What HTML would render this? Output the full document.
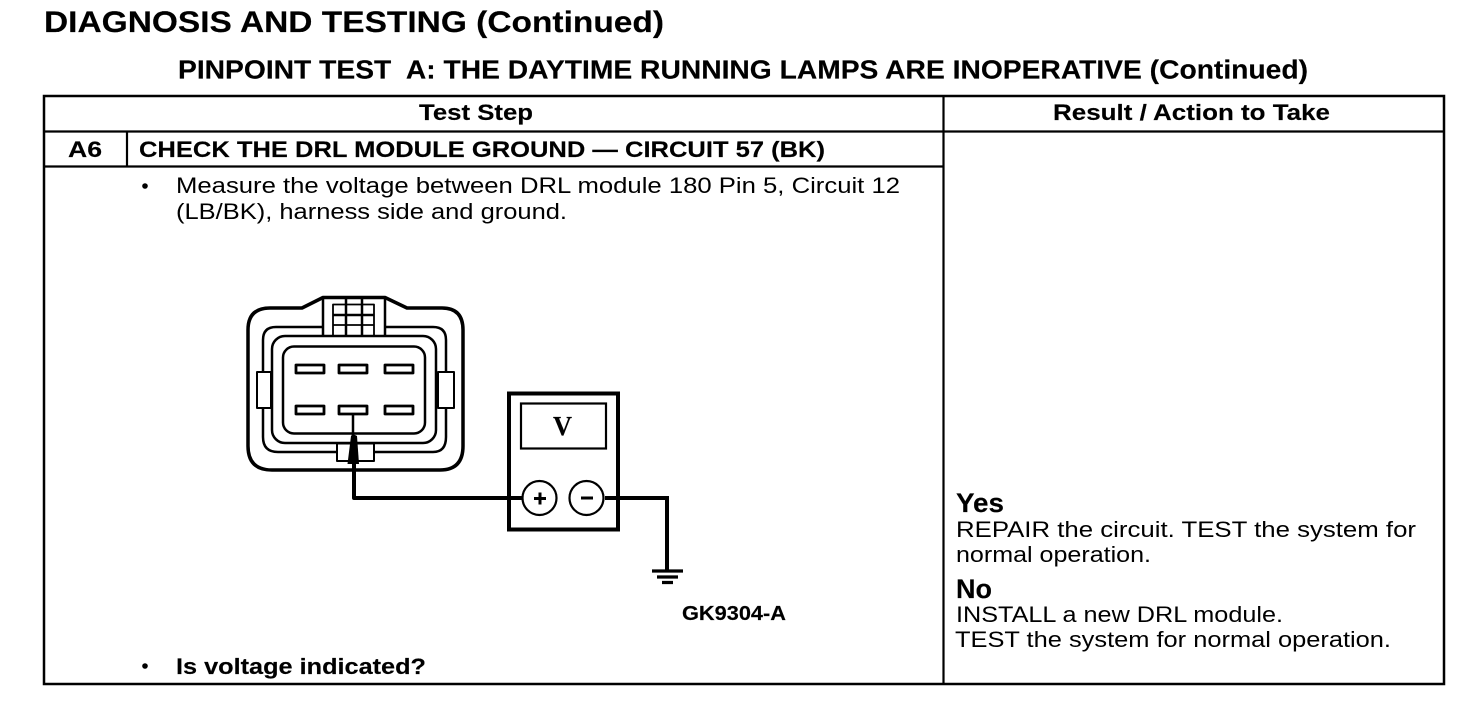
<!DOCTYPE html>
<html><head><meta charset="utf-8"><style>
html,body{margin:0;padding:0;background:#fff;width:1472px;height:712px;overflow:hidden}
svg{display:block}
text{font-family:"Liberation Sans",sans-serif;fill:#000}
.b{font-weight:bold;stroke:#000;stroke-width:.15}
</style></head><body>
<svg width="1472" height="712" viewBox="0 0 1472 712" xmlns="http://www.w3.org/2000/svg">
<rect width="1472" height="712" fill="#fff"/>
<text class="b" x="44" y="32" font-size="30" textLength="620" lengthAdjust="spacingAndGlyphs">DIAGNOSIS AND TESTING (Continued)</text>
<text class="b" x="178" y="78.500" font-size="25.500" textLength="1130" lengthAdjust="spacingAndGlyphs">PINPOINT TEST&#160; A: THE DAYTIME RUNNING LAMPS ARE INOPERATIVE (Continued)</text>
<g fill="none" stroke="#000">
<rect x="44" y="96" width="1400" height="588" stroke-width="2.5"/>
<path d="M44 131.500H1444M44 166.500H943M943.500 96V684M127 131V166" stroke-width="2.2"/>
</g>
<g font-size="22.500">
<text class="b" x="419" y="120" textLength="114" lengthAdjust="spacingAndGlyphs">Test Step</text>
<text class="b" x="1053" y="120" textLength="277" lengthAdjust="spacingAndGlyphs">Result / Action to Take</text>
<text class="b" x="68" y="157" textLength="34" lengthAdjust="spacingAndGlyphs">A6</text>
<text class="b" x="139" y="157" textLength="686" lengthAdjust="spacingAndGlyphs">CHECK THE DRL MODULE GROUND — CIRCUIT 57 (BK)</text>
<text x="176" y="193" textLength="724" lengthAdjust="spacingAndGlyphs">Measure the voltage between DRL module 180 Pin 5, Circuit 12</text>
<text x="176" y="219" textLength="391" lengthAdjust="spacingAndGlyphs">(LB/BK), harness side and ground.</text>
<text class="b" x="176" y="674" textLength="250" lengthAdjust="spacingAndGlyphs">Is voltage indicated?</text>
<text class="b" x="956" y="512" font-size="27" textLength="48" lengthAdjust="spacingAndGlyphs">Yes</text>
<text x="956" y="537" textLength="460" lengthAdjust="spacingAndGlyphs">REPAIR the circuit. TEST the system for</text>
<text x="956" y="562" textLength="195" lengthAdjust="spacingAndGlyphs">normal operation.</text>
<text class="b" x="956" y="598" font-size="27" textLength="36" lengthAdjust="spacingAndGlyphs">No</text>
<text x="956" y="622" textLength="327" lengthAdjust="spacingAndGlyphs">INSTALL a new DRL module.</text>
<text x="955" y="647" textLength="436" lengthAdjust="spacingAndGlyphs">TEST the system for normal operation.</text>
</g>
<circle cx="145" cy="186" r="2.800" fill="#000"/>
<circle cx="145" cy="666" r="2.800" fill="#000"/>

<!-- connector -->
<g fill="none" stroke="#000" stroke-linejoin="round">
<path d="M302 308L323 297.500H385L407 308H442Q463 308 463 330V446Q463 470 440 470H272Q248 470 248 446V330Q248 308 270 308Z" stroke-width="3.500" fill="#fff"/>
<path d="M323 297.500V335M385 297.500V335" stroke-width="2.500"/>
<path d="M323 327H276Q263 327 263 340V437Q263 452 278 452H433Q446 452 446 437V340Q446 327 433 327H385" stroke-width="2.500"/>
<rect x="272" y="336" width="164" height="107" rx="13" stroke-width="2.500"/>
<rect x="283" y="346.500" width="142" height="87" rx="11" stroke-width="2.500"/>
<path d="M333 335V304.500H374V335M333 325H374" stroke-width="1.800"/>
<path d="M346 299V335M362 299V335M333 315H374" stroke-width="2.500"/>
<g stroke-width="2.800" fill="#fff">
<rect x="296" y="365" width="28" height="8"/><rect x="339" y="365" width="28" height="8"/><rect x="385" y="365" width="28" height="8"/>
<rect x="296" y="406" width="28" height="8"/><rect x="339" y="406" width="28" height="8"/><rect x="385" y="406" width="28" height="8"/>
</g>
<path d="M257 372H271V408H257ZM438 372H454V408H438Z" stroke-width="2" fill="#fff"/>
<rect x="337" y="443.500" width="37" height="17.500" stroke-width="2" fill="#fff"/>
<path d="M353 414V436" stroke-width="2.500"/>
<path d="M354 463V498H508" stroke-width="4"/>
</g>
<path d="M351 436L353 434L357 436L359 464H347.500Z" fill="#000"/>

<!-- meter -->
<g fill="none" stroke="#000">
<rect x="509" y="393.500" width="109" height="136" stroke-width="4" fill="#fff"/>
<rect x="521" y="403.500" width="85" height="45" stroke-width="2.200"/>
<path d="M480 498H522M605 498H667V572" stroke-width="4"/>
<circle cx="539.500" cy="498" r="17" stroke-width="2.200" fill="#fff"/>
<circle cx="586.500" cy="498" r="17" stroke-width="2.200" fill="#fff"/>
<path d="M534 498.500H546M540 492.500V504.500M581 498H593" stroke-width="3"/>
<path d="M652 571H683M657 577H678M662 582.500H673" stroke-width="3.200"/>
</g>
<text class="b" x="553" y="435" font-size="27" textLength="19" lengthAdjust="spacingAndGlyphs" style="font-family:'Liberation Serif',serif">V</text>
<text class="b" x="682" y="620" font-size="20" textLength="104" lengthAdjust="spacingAndGlyphs">GK9304-A</text>
</svg>
</body></html>
